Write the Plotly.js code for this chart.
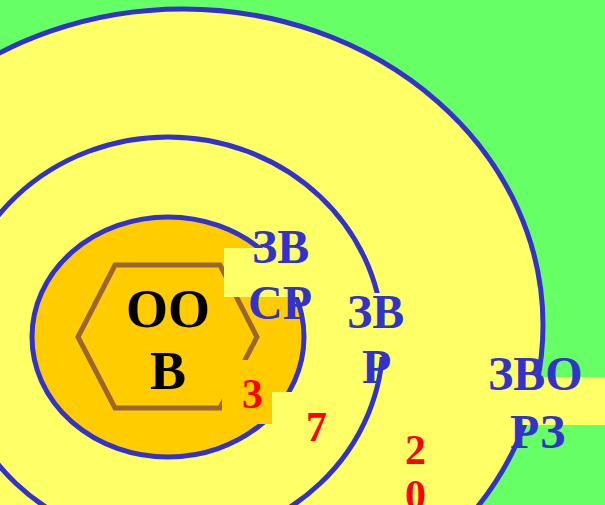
<!DOCTYPE html>
<html>
<head>
<meta charset="utf-8">
<script src="https://cdn.plot.ly/plotly-3.0.1.min.js"></script>
<style>html,body{margin:0;padding:0;background:#66FF66;}#chart{width:605px;height:505px;}</style>
</head>
<body>
<div id="chart"></div>
<script>
// ---- data ----
const coreLabel = ['ОО', 'В'];
const zoneLabels = [['ЗВ', 'СР'], ['ЗВ', 'Р'], ['ЗВО', 'РЗ']];
const radiusLabels = ['3', '7', '20'];

// ---- layout geometry (pixels) ----
const BLUE = '#3333CC', YEL = '#FFFF66', ORG = '#FFCC00', GRN = '#66FF66', BRN = '#996633', RED = '#FF0000';
const FONT = 'Liberation Serif, Times New Roman, serif';

const coreLinePos = [[168, 309], [168, 371]];
const zoneLinePos = [[[280, 246], [280, 302]], [[375, 311], [376, 366]], [[535, 373], [537, 431]]];
const radiusPos = [[[252, 394]], [[316, 427]], [[415, 450], [415, 495]]];

const shapes = [
  // outer zone
  {type: 'circle', xref: 'x', yref: 'y', x0: 183 - 360, x1: 183 + 360, y0: 325 - 316, y1: 325 + 316,
   fillcolor: YEL, line: {color: BLUE, width: 5}, layer: 'below'},
  // middle zone
  {type: 'circle', xref: 'x', yref: 'y', x0: 168 - 215, x1: 168 + 215, y0: 340 - 203, y1: 340 + 203,
   fillcolor: YEL, line: {color: BLUE, width: 5}, layer: 'below'},
  // inner zone
  {type: 'circle', xref: 'x', yref: 'y', x0: 168 - 136, x1: 168 + 136, y0: 337 - 120, y1: 337 + 120,
   fillcolor: ORG, line: {color: BLUE, width: 5}, layer: 'below'},
  // hexagon
  {type: 'path', xref: 'x', yref: 'y', path: 'M 78 337 L 115 265 L 220 265 L 257 337 L 220 408 L 115 408 Z',
   fillcolor: 'rgba(0,0,0,0)', line: {color: BRN, width: 5}, layer: 'below'},
  // label backgrounds
  {type: 'rect', xref: 'x', yref: 'y', x0: 224, x1: 300, y0: 248, y1: 297, fillcolor: YEL, line: {width: 0}, layer: 'below'},
  {type: 'rect', xref: 'x', yref: 'y', x0: 345, x1: 405, y0: 293, y1: 357, fillcolor: YEL, line: {width: 0}, layer: 'below'},
  {type: 'rect', xref: 'x', yref: 'y', x0: 272, x1: 340, y0: 392, y1: 445, fillcolor: YEL, line: {width: 0}, layer: 'below'},
  {type: 'rect', xref: 'x', yref: 'y', x0: 222, x1: 272, y0: 360, y1: 424, fillcolor: ORG, line: {width: 0}, layer: 'below'},
  {type: 'rect', xref: 'x', yref: 'y', x0: 490, x1: 605, y0: 377, y1: 425, fillcolor: YEL, line: {width: 0}, layer: 'below'}
];

const annotations = [];
function addText(txt, pos, size, color) {
  annotations.push({text: '<b>' + txt + '</b>', x: pos[0], y: pos[1], xref: 'x', yref: 'y',
    xanchor: 'center', yanchor: 'middle', showarrow: false,
    font: {family: FONT, size: size, color: color}});
}
coreLabel.forEach((t, i) => addText(t, coreLinePos[i], 54, '#000000'));
zoneLabels.forEach((lines, z) => lines.forEach((t, i) => addText(t, zoneLinePos[z][i], 48, BLUE)));
radiusLabels.forEach((lab, r) => {
  const chars = radiusPos[r].length > 1 ? lab.split('') : [lab];
  chars.forEach((c, i) => addText(c, radiusPos[r][i], 42, RED));
});

const layout = {
  width: 605, height: 505,
  margin: {l: 0, r: 0, t: 0, b: 0, pad: 0},
  paper_bgcolor: GRN, plot_bgcolor: GRN,
  xaxis: {range: [0, 605], visible: false, fixedrange: true},
  yaxis: {range: [505, 0], visible: false, fixedrange: true},
  showlegend: false,
  shapes: shapes,
  annotations: annotations
};

Plotly.newPlot('chart', [{x: [], y: [], type: 'scatter', mode: 'markers', hoverinfo: 'skip'}], layout,
  {displayModeBar: false, staticPlot: true});
</script>
</body>
</html>
